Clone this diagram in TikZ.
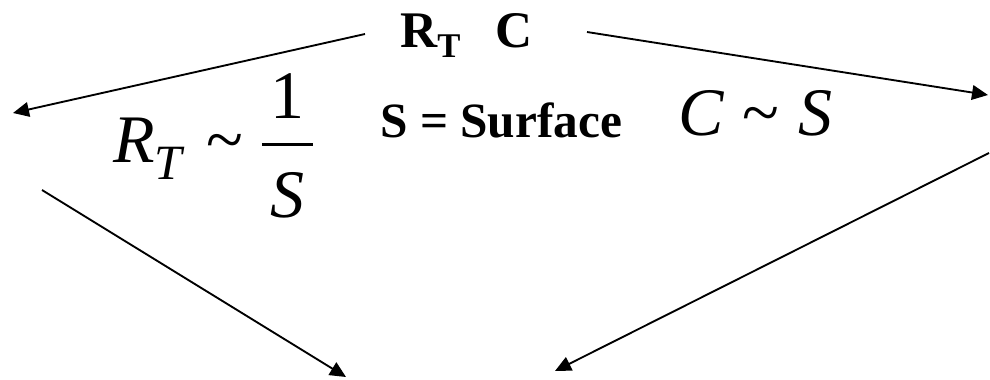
\documentclass[tikz,border=0pt]{standalone}
\usepackage{fontspec}
\setmainfont{Liberation Serif}
\usetikzlibrary{arrows.meta}
\tikzstyle{arrow} = [line width=1.4pt,-{Triangle[length=12pt,width=11pt]}]
\tikzset{
  boldtext/.style = {font=\bfseries\fontsize{38.5}{40}\selectfont, anchor=base west, inner sep=0pt},
  formula/.style  = {font=\fontsize{51}{52}\selectfont, anchor=base west, inner sep=0pt}
}
\begin{document}
\begin{tikzpicture}[x=0.75pt,y=-0.75pt]
\useasboundingbox (0,0) rectangle (990,379);
% labels
\node[boldtext] (rtc) at (400,47) {R\raisebox{-0.21em}{\fontsize{26}{26}\selectfont T}\hspace{0.68em}C};
\node[boldtext, font=\bfseries\fontsize{37}{38}\selectfont] (surface) at (380,137) {S = Surface};
\node[formula] (rlaw) at (113,162) {\itshape R\raisebox{-0.26em}{\fontsize{37}{37}\selectfont T}\hspace{0.35em}\upshape\textasciitilde\hspace{0.28em}%
  \rlap{\raisebox{0.647em}{\makebox[0.75em]{1}}}%
  \rlap{\raisebox{0.23em}{\rule{0.75em}{0.045em}}}%
  \raisebox{-0.81em}{\makebox[0.75em]{\itshape S}}};
\node[formula] (claw) at (678,135) {\itshape C\hspace{0.28em}\upshape\textasciitilde\hspace{0.28em}\itshape S};

% arrow ends
\coordinate (rtcleft) at (365,34);
\coordinate (rtcright) at (587,32);
\coordinate (farleft) at (13,113);
\coordinate (farright) at (988,95);
\coordinate (lowleft) at (42,190);
\coordinate (lowright) at (989,153);
\coordinate (bottomleft) at (346,377);
\coordinate (bottomright) at (555,371);

% arrows
\draw[arrow] (rtcleft) -- (farleft);
\draw[arrow] (rtcright) -- (farright);
\draw[arrow] (lowleft) -- (bottomleft);
\draw[arrow] (lowright) -- (bottomright);
\end{tikzpicture}
\end{document}
